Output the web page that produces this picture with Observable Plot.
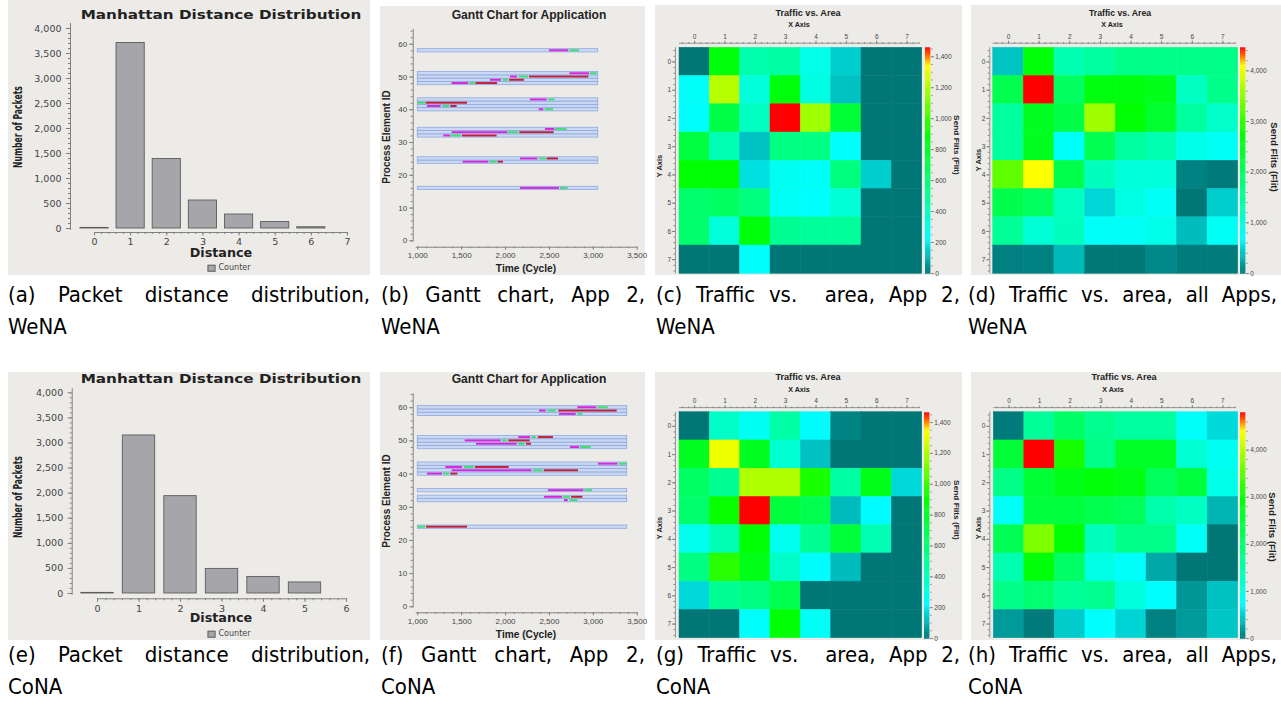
<!DOCTYPE html>
<html><head><meta charset="utf-8">
<script src="https://cdn.jsdelivr.net/npm/d3@7"></script>
<script src="https://cdn.jsdelivr.net/npm/@observablehq/plot@0.6"></script>
<style>
body{margin:0;background:#fff;}
#root{position:relative;width:1281px;height:703px;overflow:hidden;background:#fff;}
.pn{position:absolute;background:#edebe8;}
.pn svg{position:absolute;left:0;top:0;overflow:visible;}
.lbl{position:absolute;white-space:nowrap;line-height:1;}
.cap{position:absolute;font-family:"DejaVu Sans Condensed","DejaVu Sans",sans-serif;font-stretch:condensed;font-size:22px;line-height:32px;color:#000;white-space:nowrap;}
.cap .l1{text-align:justify;text-align-last:justify;}
.cap .l2{text-align:left;}
</style></head><body><div id="root"></div>
<script>
// ---------------- DATA ----------------
const distancesWeNA = [0, 1, 2, 3, 4, 5, 6, 7];
const packetsWeNA = [12, 3710, 1390, 560, 280, 130, 25, 0];
const distancesCoNA = [0, 1, 2, 3, 4, 5, 6];
const packetsCoNA = [12, 3150, 1940, 490, 330, 220, 0];

const phases = ["Compute", "Send", "Wait"];
const phaseColors = ["#dc24dc", "#3ee070", "#c21f3a"];

const ganttRowsWeNA = [16, 24, 25, 32, 33, 34, 40, 41, 42, 43, 48, 49, 50, 51, 58];
const ganttEndWeNA = 3056;
// [process element, phase, start cycle, end cycle]
const ganttSegWeNA = [
  [58,0,2500,2720],[58,1,2733,2843],
  [51,0,2733,2957],[51,1,2968,3044],
  [50,0,2056,2136],[50,1,2159,2261],[50,2,2273,2949],
  [49,0,1828,1954],[49,1,1973,2033],[49,2,2045,2216],
  [48,0,1391,1581],[48,1,1593,1650],[48,2,1661,1908],
  [43,0,2284,2474],[43,1,2493,2562],
  [42,1,1000,1087],[42,2,1095,1566],
  [41,0,1110,1266],[41,1,1285,1361],[41,2,1376,1448],
  [40,0,2383,2436],[40,1,2451,2546],
  [34,0,2455,2562],[34,1,2569,2702],
  [33,0,1391,2026],[33,1,2030,2151],[33,2,2163,2554],
  [32,0,1296,1372],[32,1,1380,1498],[32,2,1509,1904],
  [25,0,2170,2368],[25,1,2387,2463],[25,2,2474,2603],
  [24,0,1517,1809],[24,1,1821,1904],[24,2,1916,1976],
  [16,0,2170,2615],[16,1,2626,2714]
];
const ganttRowsCoNA = [24, 32, 33, 35, 40, 41, 42, 43, 48, 49, 50, 51, 58, 59, 60];
const ganttEndCoNA = 3386;
const ganttSegCoNA = [
  [60,0,2824,3040],[60,1,3056,3170],
  [59,0,2387,2463],[59,1,2482,2577],[59,2,2608,3272],
  [58,0,2615,2805],[58,1,2824,2881],
  [51,0,2151,2284],[51,1,2300,2349],[51,2,2372,2546],
  [50,0,1540,1950],[50,1,1965,2022],[50,2,2037,2280],
  [49,0,1669,2132],[49,1,2147,2223],[49,2,2239,2296],
  [48,0,2740,2843],[48,1,2854,2976],
  [43,0,3059,3280],[43,1,3295,3379],
  [42,0,1319,1509],[42,1,1528,1642],[42,2,1657,2041],
  [41,0,1391,2300],[41,1,2315,2425],[41,2,2440,2831],
  [40,0,1110,1281],[40,1,1293,1361],[40,2,1376,1456],
  [35,0,2489,2892],[35,1,2904,2991],
  [33,0,2444,2649],[33,1,2657,2740],[33,2,2752,2881],
  [32,0,2672,2714],[32,1,2733,2824],
  [24,1,1004,1087],[24,2,1099,1566]
];

// Send flits per node, rows = Y 0..7, columns = X 0..7
const trafficApp2WeNA = [
  [0, 880, 450, 480, 300, 150, 0, 0],
  [250, 1220, 330, 870, 310, 130, 0, 0],
  [240, 720, 400, 1460, 1180, 760, 0, 0],
  [740, 430, 130, 560, 560, 240, 0, 0],
  [900, 900, 180, 270, 250, 570, 150, 0],
  [620, 650, 570, 260, 234, 340, 0, 0],
  [620, 330, 880, 520, 500, 500, 0, 0],
  [0, 0, 240, 0, 0, 0, 0, 0]
];
const maxApp2WeNA = 1460;
const trafficAllWeNA = [
  [400, 2700, 1350, 1500, 1670, 1670, 1670, 1670],
  [2130, 4460, 2000, 2650, 2650, 2550, 1200, 1650],
  [1500, 2500, 2200, 3600, 2750, 2400, 1500, 1150],
  [1500, 2500, 750, 2100, 1500, 1350, 900, 800],
  [3270, 4100, 2150, 1250, 1000, 1000, 60, 20],
  [2150, 2000, 1200, 500, 950, 780, 0, 460],
  [1550, 1050, 1250, 760, 780, 880, 370, 800],
  [50, 50, 350, 10, 10, 90, 30, 30]
];
const maxAllWeNA = 4460;
const trafficApp2CoNA = [
  [0, 380, 270, 470, 230, 25, 0, 0],
  [820, 1320, 820, 350, 130, 0, 0, 0],
  [650, 520, 1210, 1210, 950, 480, 840, 170],
  [620, 920, 1465, 750, 700, 120, 230, 0],
  [280, 430, 900, 280, 520, 760, 430, 0],
  [570, 980, 850, 380, 230, 120, 0, 0],
  [170, 520, 570, 700, 0, 0, 0, 0],
  [0, 0, 240, 900, 260, 0, 0, 0]
];
const maxApp2CoNA = 1465;
const trafficAllCoNA = [
  [30, 1650, 2100, 1750, 1600, 1600, 800, 560],
  [2500, 4800, 3100, 1800, 2650, 2650, 1150, 900],
  [1800, 2500, 2800, 2900, 2800, 2200, 2450, 950],
  [850, 2450, 2450, 2300, 2200, 1500, 1300, 350],
  [2250, 3700, 2950, 1350, 1800, 1800, 830, 0],
  [1450, 2900, 2100, 1000, 800, 280, 0, 0],
  [1800, 2000, 1650, 1750, 1050, 780, 180, 420],
  [200, 20, 480, 780, 520, 60, 200, 450]
];
const maxAllCoNA = 4800;

const captionsTop = [["(a) Packet distance distribution,", "WeNA"], ["(b) Gantt chart, App 2,", "WeNA"], ["(c) Traffic vs.\u00a0 area, App 2,", "WeNA"], ["(d) Traffic vs. area, all Apps,", "WeNA"]];
const captionsBottom = [["(e) Packet distance distribution,", "CoNA"], ["(f) Gantt chart, App 2,", "CoNA"], ["(g) Traffic vs.\u00a0 area, App 2,", "CoNA"], ["(h) Traffic vs. area, all Apps,", "CoNA"]];

// ---------------- STYLE ----------------
const STOP_T = [0, 0.16, 0.62, 0.92, 1];
const STOP_COLORS = ["#007676", "#00ffff", "#00ff00", "#ffff00", "#ff0000"];
const FONT_UI = '"Liberation Sans", Arial, sans-serif';
const FONT_DJ = '"DejaVu Sans", sans-serif';
const FONT_NARROW = '"Liberation Sans Narrow", "DejaVu Sans Condensed", "Liberation Sans", sans-serif';
const AX = "#808080";
const fmt = d3.format(",");
const fmtInt = d => String(d);

const root = document.getElementById("root");
function panel(L, T, W, H) {
  const d = document.createElement("div");
  d.className = "pn";
  Object.assign(d.style, {left: L + "px", top: T + "px", width: W + "px", height: H + "px"});
  root.appendChild(d);
  return d;
}
function put(parent, svg, x, y) {
  svg.style.left = x + "px"; svg.style.top = y + "px";
  parent.appendChild(svg);
}
function label(text, x, y, o = {}) {
  const d = document.createElement("div");
  d.className = "lbl";
  d.textContent = text;
  Object.assign(d.style, {left: x + "px", top: y + "px", fontFamily: o.family || FONT_UI,
    fontSize: (o.size || 10) + "px", fontWeight: o.weight || "bold",
    letterSpacing: (o.ls || 0) + "px", color: o.color || "#222"});
  root.appendChild(d);
  const s = o.fit ? o.fit / d.offsetWidth : 1;
  d.style.transform = `translate(-50%,-50%) rotate(${o.rot || 0}deg) scaleX(${s})`;
  return d;
}
function legendCounter(x, y) {
  const d = document.createElement("div");
  d.className = "lbl";
  d.innerHTML = '<span style="display:inline-block;width:6px;height:5px;background:#a6a5aa;border:1px solid #666;margin-right:3px;vertical-align:middle"></span><span style="vertical-align:middle">Counter</span>';
  Object.assign(d.style, {left: x + "px", top: y + "px", fontFamily: FONT_DJ, fontSize: "8px", color: "#444", transform: "translate(-50%,-50%)"});
  root.appendChild(d);
}

// ---------------- CHART BUILDERS ----------------
function barPlot(dist, counts, o) {
  const data = dist.map((d, i) => ({d, n: counts[i]})).filter(r => r.n > 0);
  const xmax = d3.max(dist);
  return Plot.plot({
    width: o.W, height: o.H, marginLeft: o.ml, marginRight: o.mr, marginTop: o.mt, marginBottom: o.mb,
    style: {background: "transparent", fontFamily: FONT_DJ, fontSize: "9.5px", color: "#444"},
    x: {domain: o.xdom, label: null},
    y: {domain: o.ydom, label: null},
    marks: [
      Plot.ruleX([o.xdom[0]], {y1: () => -40, y2: () => o.ydom[1], stroke: AX}),
      Plot.ruleY([o.ydom[0]], {x1: () => 0, x2: () => xmax, stroke: AX}),
      Plot.axisY({ticks: d3.range(0, 4001, 500), tickFormat: fmt, tickSize: 4, tickPadding: 5, stroke: AX, fill: "#444", label: null}),
      Plot.axisY({ticks: d3.range(0, 4001, 100), tickSize: 2, stroke: AX, fill: "none", label: null}),
      Plot.axisX({ticks: dist, tickSize: 3.5, tickPadding: 2.5, tickFormat: fmtInt, stroke: AX, fill: "#444", label: null}),
      Plot.axisX({ticks: d3.range(0, xmax + 0.01, 0.2), tickSize: 2, stroke: AX, fill: "none", label: null}),
      Plot.rect(data, {x1: r => r.d - 0.39, x2: r => r.d + 0.39, y1: () => 0, y2: "n", fill: "#a6a5aa", stroke: "#5c5c5c", strokeWidth: 0.9})
    ]
  });
}

function ganttPlot(rows, rowEnd, segs, o) {
  const data = segs.map(([pe, ph, s, e]) => ({pe, ph: phases[ph], s, e}));
  return Plot.plot({
    width: o.W, height: o.H, marginLeft: o.ml, marginRight: o.mr, marginTop: o.mt, marginBottom: o.mb,
    style: {background: "transparent", fontFamily: FONT_UI, fontSize: "8px", color: "#444"},
    x: {domain: o.xdom, label: null},
    y: {domain: o.ydom, label: null},
    color: {type: "ordinal", domain: phases, range: phaseColors},
    marks: [
      Plot.ruleX([o.xdom[0]], {y1: () => -0.4, y2: () => o.ydom[1], stroke: AX}),
      Plot.ruleY([o.ydom[0]], {x1: () => 982, x2: () => 3500, stroke: AX}),
      Plot.axisY({ticks: d3.range(0, 61, 10), tickFormat: fmtInt, tickSize: 3.5, tickPadding: 2.5, stroke: AX, fill: "#444", label: null}),
      Plot.axisY({ticks: d3.range(0, 65, 2), tickSize: 2, stroke: AX, fill: "none", label: null}),
      Plot.axisX({ticks: d3.range(1000, 3501, 500), tickFormat: fmt, tickSize: 3, tickPadding: 2.5, stroke: AX, fill: "#444", label: null}),
      Plot.axisX({ticks: d3.range(1000, 3501, 100), tickSize: 1.5, stroke: AX, fill: "none", label: null}),
      Plot.rect(rows, {x1: () => 1000, x2: () => rowEnd, y1: d => d - 0.5, y2: d => d + 0.5, fill: "#cad8f3", stroke: "#8fa9de", strokeWidth: 0.8}),
      Plot.rect(data, {x1: "s", x2: "e", y1: d => d.pe - 0.3, y2: d => d.pe + 0.3, fill: "ph"})
    ]
  });
}

function heatPlot(grid, max, o) {
  const cells = grid.flatMap((row, r) => row.map((v, c) => ({c, r, v})));
  return Plot.plot({
    width: o.W, height: o.H, marginLeft: o.ml, marginRight: o.mr, marginTop: o.mt, marginBottom: o.mb,
    style: {background: "transparent", fontFamily: FONT_UI, fontSize: "6.5px", color: "#444"},
    x: {domain: [o.x0, 7.5], label: null},
    y: {domain: [7.5, o.y0], label: null},
    color: {type: "linear", domain: STOP_T.map(t => t * max), range: STOP_COLORS},
    marks: [
      Plot.rect(cells, {x1: d => d.c - 0.5, x2: d => d.c + 0.5, y1: d => d.r - 0.5, y2: d => d.r + 0.5, fill: "v", stroke: "v", strokeWidth: 0.5}),
      Plot.ruleY([o.y0], {x1: () => -0.5, x2: () => 7.42, stroke: AX, strokeWidth: 0.8}),
      Plot.ruleX([o.x0], {y1: () => -0.5, y2: () => 7.5, stroke: AX, strokeWidth: 0.8}),
      Plot.axisX({anchor: "top", ticks: d3.range(8), tickSize: 3, tickPadding: 1.5, tickFormat: fmtInt, stroke: AX, fill: "#444", label: null}),
      Plot.axisX({anchor: "top", ticks: d3.range(-0.4, 7.45, 0.2), tickSize: 1.5, stroke: AX, fill: "none", label: null}),
      Plot.axisY({anchor: "left", ticks: d3.range(8), tickSize: 3, tickPadding: 1.5, tickFormat: fmtInt, stroke: AX, fill: "#444", label: null}),
      Plot.axisY({anchor: "left", ticks: d3.range(-0.4, 7.45, 0.2), tickSize: 1.5, stroke: AX, fill: "none", label: null})
    ]
  });
}

function colorBar(max, major, minor) {
  const n = 240;
  const ramp = d3.range(n).map(i => (i + 0.5) * max / n);
  return Plot.plot({
    width: 40, height: 226, marginLeft: 0, marginRight: 34.7, marginTop: 0, marginBottom: 0,
    style: {background: "transparent", fontFamily: FONT_UI, fontSize: "6.5px", color: "#444"},
    y: {domain: [0, max], label: null},
    color: {type: "linear", domain: STOP_T.map(t => t * max), range: STOP_COLORS},
    marks: [
      Plot.ruleY(ramp, {y: d => d, stroke: d => d, strokeWidth: 1.4}),
      Plot.axisY({anchor: "right", ticks: d3.range(0, max, major), tickFormat: fmt, tickSize: 2.5, tickPadding: 2, stroke: AX, fill: "#444", label: null}),
      Plot.axisY({anchor: "right", ticks: d3.range(0, max, minor), tickSize: 1.3, stroke: AX, fill: "none", label: null})
    ]
  });
}

// ---------------- PANELS ----------------
// (a)
let p = panel(8, 0, 362, 275);
put(p, barPlot(distancesWeNA, packetsWeNA, {W: 362, H: 275, ml: 62, mr: 3, mt: 23, mb: 43, xdom: [-0.664, 7.554], ydom: [-80, 4100]}), 0, 0);
label("Manhattan Distance Distribution", 221, 14, {family: FONT_DJ, size: 13, fit: 281});
label("Number of Packets", 18, 127, {family: FONT_NARROW, size: 12.5, rot: -90, fit: 82});
label("Distance", 221, 254, {family: FONT_DJ, size: 11.5, fit: 62});
legendCounter(229, 268);

// (e)
p = panel(8, 372, 362, 268);
put(p, barPlot(distancesCoNA, packetsCoNA, {W: 362, H: 268, ml: 63.7, mr: 3, mt: 16.3, mb: 41.7, xdom: [-0.61, 6.506], ydom: [-106, 4080]}), 0, 0);
label("Manhattan Distance Distribution", 221, 378, {family: FONT_DJ, size: 13, fit: 281});
label("Number of Packets", 18, 497, {family: FONT_NARROW, size: 12.5, rot: -90, fit: 82});
label("Distance", 221, 619, {family: FONT_DJ, size: 11.5, fit: 62});
legendCounter(229, 634);

// (b)
p = panel(380, 6, 265, 269);
put(p, ganttPlot(ganttRowsWeNA, ganttEndWeNA, ganttSegWeNA, {W: 265, H: 269, ml: 32.7, mr: 8.3, mt: 23, mb: 28.3, xdom: [947.6, 3500], ydom: [-1.95, 64.5]}), 0, 0);
label("Gantt Chart for Application", 529, 15, {size: 12, fit: 155});
label("Process Element ID", 387, 137, {size: 10, rot: -90, fit: 93});
label("Time (Cycle)", 526, 269, {size: 10, fit: 60});

// (f)
p = panel(380, 372, 265, 268);
put(p, ganttPlot(ganttRowsCoNA, ganttEndCoNA, ganttSegCoNA, {W: 265, H: 268, ml: 32.7, mr: 8.3, mt: 21.3, mb: 27.7, xdom: [947.6, 3500], ydom: [-1.81, 64.2]}), 0, 0);
label("Gantt Chart for Application", 529, 379, {size: 12, fit: 155});
label("Process Element ID", 387, 501, {size: 10, rot: -90, fit: 93});
label("Time (Cycle)", 526, 635, {size: 10, fit: 60});

// (c)
p = panel(655, 5, 307, 270);
put(p, heatPlot(trafficApp2WeNA, maxApp2WeNA, {W: 307, H: 270, ml: 20, mr: 40.3, mt: 37.7, mb: 1.7, x0: -0.632, y0: -0.663}), 0, 0);
put(p, colorBar(maxApp2WeNA, 200, 50), 269.5, 42.3);
label("Traffic vs. Area", 808, 13, {size: 9, fit: 65});
label("X Axis", 799, 25, {size: 7.5, fit: 22});
label("Y Axis", 660, 166, {size: 7.5, rot: -90, fit: 23});
label("Send Flits (Flit)", 956, 145, {size: 8, rot: 90, fit: 60});

// (d)
p = panel(971, 5, 310, 270);
put(p, heatPlot(trafficAllWeNA, maxAllWeNA, {W: 310, H: 270, ml: 18.3, mr: 43.3, mt: 37.7, mb: 1.7, x0: -0.611, y0: -0.663}), 0, 0);
put(p, colorBar(maxAllWeNA, 1000, 200), 269.3, 42.3);
label("Traffic vs. Area", 1120, 13, {size: 9, fit: 62});
label("X Axis", 1112, 25, {size: 7.5, fit: 22});
label("Y Axis", 979, 160, {size: 7.5, rot: -90, fit: 23});
label("Send Flits (Flit)", 1274, 157, {size: 8.5, rot: 90, fit: 69});

// (g)
p = panel(655, 372, 307, 268);
put(p, heatPlot(trafficApp2CoNA, maxApp2CoNA, {W: 307, H: 268, ml: 20, mr: 40.3, mt: 35.1, mb: 2.3, x0: -0.632, y0: -0.663}), 0, 0);
put(p, colorBar(maxApp2CoNA, 200, 50), 269.3, 39.7);
label("Traffic vs. Area", 808, 377, {size: 9, fit: 65});
label("X Axis", 799, 390, {size: 7.5, fit: 22});
label("Y Axis", 660, 528, {size: 7.5, rot: -90, fit: 23});
label("Send Flits (Flit)", 956, 510, {size: 8, rot: 90, fit: 60});

// (h)
p = panel(971, 372, 310, 268);
put(p, heatPlot(trafficAllCoNA, maxAllCoNA, {W: 310, H: 268, ml: 18.3, mr: 43.3, mt: 35.1, mb: 2.3, x0: -0.631, y0: -0.663}), 0, 0);
put(p, colorBar(maxAllCoNA, 1000, 200), 269, 39.7);
label("Traffic vs. Area", 1124, 377, {size: 9, fit: 65});
label("X Axis", 1113, 390, {size: 7.5, fit: 22});
label("Y Axis", 979, 528, {size: 7.5, rot: -90, fit: 23});
label("Send Flits (Flit)", 1272, 527, {size: 8.5, rot: 90, fit: 69});

// ---------------- CAPTIONS ----------------
const capCols = [[8, 362], [381, 264], [656, 304], [968, 309]];
function caption(lines, col, top) {
  const d = document.createElement("div");
  d.className = "cap";
  Object.assign(d.style, {left: col[0] + "px", width: col[1] + "px", top: top + "px"});
  const a = document.createElement("div"); a.className = "l1"; a.textContent = lines[0];
  const b = document.createElement("div"); b.className = "l2"; b.textContent = lines[1];
  d.appendChild(a); d.appendChild(b);
  root.appendChild(d);
}
captionsTop.forEach((t, i) => caption(t, capCols[i], 279));
captionsBottom.forEach((t, i) => caption(t, capCols[i], 639));
</script></body></html>
